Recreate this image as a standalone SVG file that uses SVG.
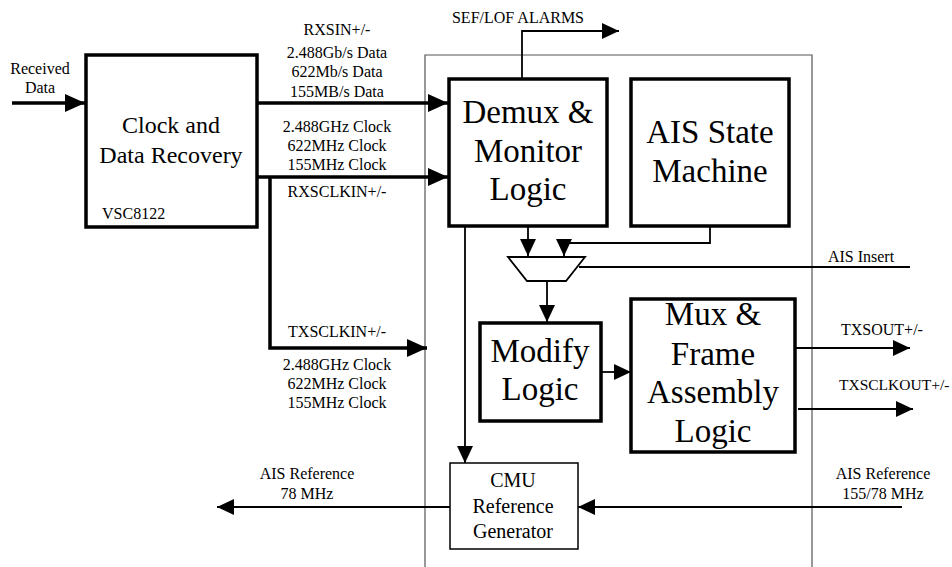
<svg xmlns="http://www.w3.org/2000/svg" width="952" height="567" viewBox="0 0 952 567">
<defs>
<style>
text{font-family:"Liberation Serif","Times New Roman",serif;fill:#000;text-anchor:middle}
.s{font-size:16px}
.m{font-size:20px}
.l{font-size:24px}
.b{font-size:33px}
.box{fill:#fff;stroke:#000;stroke-width:3.5}
.tbox{fill:#fff;stroke:#000;stroke-width:1.5}
.thick{fill:none;stroke:#000;stroke-width:3.5}
.thin{fill:none;stroke:#000;stroke-width:1.8}
</style>
<marker id="ah" markerUnits="userSpaceOnUse" viewBox="0 0 20 18" markerWidth="20" markerHeight="18" refX="20" refY="9" orient="auto"><path d="M0,0 L20,9 L0,18 z" fill="#000"/></marker>
<marker id="ahs" markerUnits="userSpaceOnUse" viewBox="0 0 17 16" markerWidth="17" markerHeight="16" refX="17" refY="8" orient="auto"><path d="M0,0 L17,8 L0,16 z" fill="#000"/></marker>
</defs>
<rect width="952" height="567" fill="#fff"/>

<g id="container">
<path d="M425,575 V55 H812 V575" fill="none" stroke="#555" stroke-width="1.2"/>
</g>

<g id="connectors">
<path class="thick" d="M12,103 H85" marker-end="url(#ah)"/>
<path class="thick" d="M257,103 H448" marker-end="url(#ah)"/>
<path class="thick" d="M257,177 H448" marker-end="url(#ah)"/>
<path class="thick" d="M270,177 V348 H427" marker-end="url(#ah)"/>
<path class="thin" d="M522,79 V31 H619" marker-end="url(#ahs)"/>
<path class="thin" d="M528,226 V256" marker-end="url(#ahs)"/>
<path class="thin" d="M710,226 V243 H564 V256" marker-end="url(#ahs)"/>
<path class="thin" d="M579,267 H910"/>
<path class="thin" d="M547,281 V322" marker-end="url(#ahs)"/>
<path class="thin" d="M465,226 V463" marker-end="url(#ahs)"/>
<path class="thin" d="M601,372 H631" marker-end="url(#ahs)"/>
<path class="thin" d="M795,348 H910" marker-end="url(#ahs)"/>
<path class="thin" d="M798,409 H913" marker-end="url(#ahs)"/>
<path class="thin" d="M450,507 H217" marker-end="url(#ahs)"/>
<path class="thin" d="M902,507 H578" marker-end="url(#ahs)"/>
</g>

<g id="mux">
<path d="M508,257 H585 L566,281 H527 Z" fill="#fff" stroke="#000" stroke-width="1.8"/>
</g>

<g id="cdr">
<rect class="box" x="86" y="55" width="171" height="172"/>
<text class="l" x="171" y="133">Clock and</text>
<text class="l" x="171" y="163">Data Recovery</text>
<text class="s" x="102" y="219" style="text-anchor:start">VSC8122</text>
</g>

<g id="demux">
<rect class="box" x="449" y="79" width="158" height="147"/>
<text class="b" x="528" y="123">Demux &amp;</text>
<text class="b" x="528" y="162">Monitor</text>
<text class="b" x="528" y="200">Logic</text>
</g>

<g id="ais">
<rect class="box" x="631" y="79" width="158" height="147"/>
<text class="b" x="710" y="143">AIS State</text>
<text class="b" x="710" y="182">Machine</text>
</g>

<g id="modify">
<rect class="box" x="480" y="323" width="121" height="98"/>
<text class="b" x="540" y="362">Modify</text>
<text class="b" x="540" y="400">Logic</text>
</g>

<g id="muxframe">
<rect class="box" x="631" y="299" width="164" height="153"/>
<text class="b" x="713" y="325">Mux &amp;</text>
<text class="b" x="713" y="365">Frame</text>
<text class="b" x="713" y="403">Assembly</text>
<text class="b" x="713" y="442">Logic</text>
</g>

<g id="cmu">
<rect class="tbox" x="450" y="463" width="128" height="86"/>
<text class="m" x="513" y="487">CMU</text>
<text class="m" x="513" y="513">Reference</text>
<text class="m" x="513" y="538">Generator</text>
</g>

<g id="labels">
<text class="s" x="40" y="74">Received</text>
<text class="s" x="40" y="93">Data</text>
<text class="s" x="337" y="35">RXSIN+/-</text>
<text class="s" x="337" y="58">2.488Gb/s Data</text>
<text class="s" x="337" y="77">622Mb/s Data</text>
<text class="s" x="337" y="97">155MB/s Data</text>
<text class="s" x="337" y="132">2.488GHz Clock</text>
<text class="s" x="337" y="151">622MHz Clock</text>
<text class="s" x="337" y="170">155MHz Clock</text>
<text class="s" x="337" y="197">RXSCLKIN+/-</text>
<text class="s" x="337" y="337">TXSCLKIN+/-</text>
<text class="s" x="337" y="370">2.488GHz Clock</text>
<text class="s" x="337" y="389">622MHz Clock</text>
<text class="s" x="337" y="408">155MHz Clock</text>
<text class="s" x="518" y="23">SEF/LOF ALARMS</text>
<text class="s" x="861" y="262">AIS Insert</text>
<text class="s" x="841" y="335" style="text-anchor:start">TXSOUT+/-</text>
<text x="839" y="390" style="text-anchor:start;font-size:15.5px">TXSCLKOUT+/-</text>
<text class="s" x="307" y="479">AIS Reference</text>
<text class="s" x="307" y="499">78 MHz</text>
<text class="s" x="883" y="479">AIS Reference</text>
<text class="s" x="883" y="499">155/78 MHz</text>
</g>
</svg>
